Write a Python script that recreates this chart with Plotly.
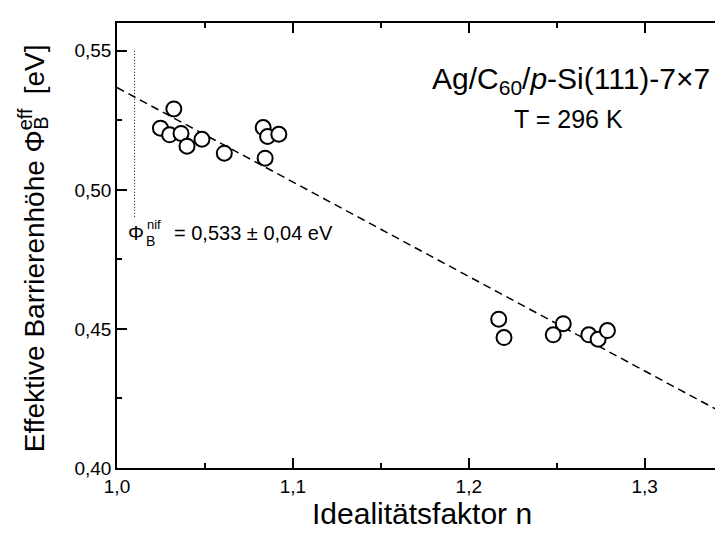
import plotly.graph_objects as go

# Messpunkte: Idealitätsfaktor n und effektive Barrierenhöhe
ideality_n = [1.0247, 1.0323, 1.0299, 1.0364, 1.0398, 1.0483, 1.0610,
              1.0831, 1.0856, 1.0920, 1.0842,
              1.2170, 1.2200, 1.2480, 1.2537, 1.2682, 1.2735, 1.2788]
barrier_eff = [0.5222, 0.5291, 0.5198, 0.5203, 0.5157, 0.5182, 0.5132,
               0.5224, 0.5192, 0.5200, 0.5114,
               0.4535, 0.4469, 0.4479, 0.4519, 0.4479, 0.4463, 0.4494]

# lineare Anpassung (Endpunkte)
fit_n = [1.0, 1.35]
fit_phi = [0.5368, 0.4179]

# n_if Markierung
nif_n = [1.01, 1.01]
nif_phi = [0.55, 0.49]

FONT = "Liberation Sans, Arial, sans-serif"

# Plotbereich in Pixeln (fuer Textpositionen)
L, R, T, B = 109, 720, 15, 460


def px(x):
    return (x - L) / (R - L)


def py(y):
    return (B - y) / (B - T)


fig = go.Figure()
fig.add_trace(go.Scatter(x=fit_n, y=fit_phi, mode="lines",
                         line=dict(color="black", width=1.5, dash="8px,5px"),
                         showlegend=False))
fig.add_trace(go.Scatter(x=nif_n, y=nif_phi, mode="lines",
                         line=dict(color="black", width=1, dash="1px,2px"),
                         showlegend=False))
fig.add_trace(go.Scatter(x=ideality_n, y=barrier_eff, mode="markers",
                         marker=dict(symbol="circle", size=15, color="white",
                                     line=dict(color="black", width=2)),
                         showlegend=False))

axis_common = dict(showline=True, linecolor="black", linewidth=1.5,
                   mirror="ticks", ticks="inside", ticklen=10, tickwidth=1.5,
                   tickcolor="black", showgrid=False, zeroline=False,
                   tickfont=dict(family=FONT, size=19, color="black"))

fig.update_xaxes(range=[1.0, 1.3462], dtick=0.1, tick0=1.0, tickformat=".1f",
                 minor=dict(dtick=0.05, ticks="inside", ticklen=5,
                            tickwidth=1.5, tickcolor="black"),
                 **axis_common)
fig.update_yaxes(range=[0.40, 0.56], dtick=0.05, tick0=0.40, tickformat=".2f",
                 minor=dict(dtick=0.025, ticks="inside", ticklen=5,
                            tickwidth=1.5, tickcolor="black"),
                 **axis_common)


def note(text, x, y, size, xanchor="center", yanchor="middle", angle=0):
    fig.add_annotation(x=px(x), y=py(y), xref="paper", yref="paper",
                       showarrow=False, text=text, textangle=angle,
                       xanchor=xanchor, yanchor=yanchor,
                       font=dict(family=FONT, size=size, color="black"))


note("Ag/C<sub>60</sub>/<i>p</i>-Si(111)-7×7", 564, 72, 30)
note("T = 296 K", 562, 111, 25)

# Phi_B^nif = 0,533 ± 0,04 eV
note("Φ", 118, 225, 20, xanchor="left")
note("B", 143, 233, 14)
note("nif", 146, 216, 13)
note("= 0,533 ± 0,04 eV", 164, 225, 20, xanchor="left")

# Achsentitel
note("Idealitätsfaktor n", (L + R) / 2, 506, 30)
note("Effektive Barrierenhöhe Φ", 26, 446, 28, yanchor="bottom", angle=-90)
note("B", 33, 124, 20, yanchor="bottom", angle=-90)
note("eff", 17, 124, 20, yanchor="bottom", angle=-90)
note("[eV]", 26, 88, 28, yanchor="bottom", angle=-90)

fig.update_layout(width=723, height=535, separators=",.",
                  margin=dict(l=L, r=723 - R, t=T, b=535 - B),
                  paper_bgcolor="white", plot_bgcolor="white")

fig.write_html("out.html")
